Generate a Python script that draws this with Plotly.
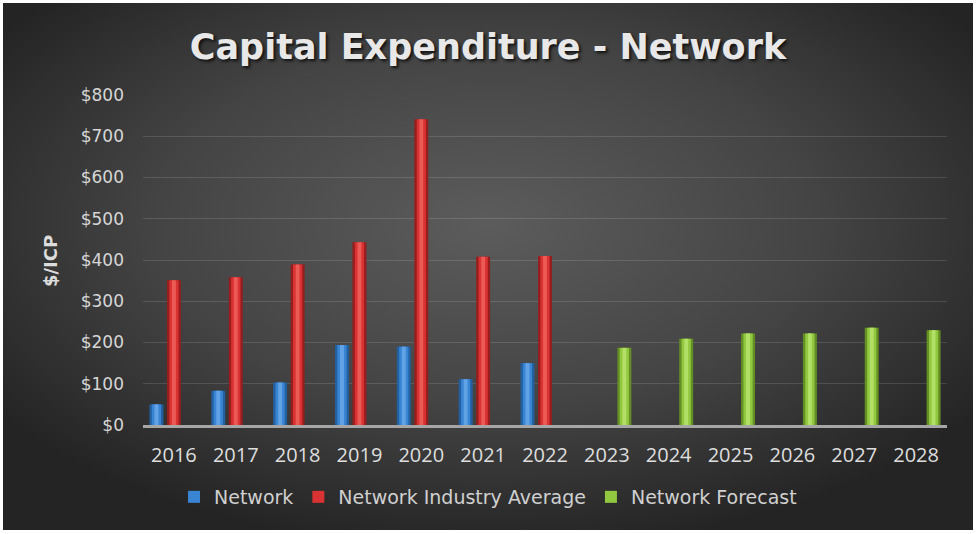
import base64
import plotly.graph_objects as go

years = ["2016", "2017", "2018", "2019", "2020", "2021", "2022",
         "2023", "2024", "2025", "2026", "2027", "2028"]
network = [50, 83, 103, 194, 190, 111, 150,
           None, None, None, None, None, None]
industry_avg = [351, 358, 389, 443, 741, 408, 410,
                None, None, None, None, None, None]
forecast = [None, None, None, None, None, None, None,
            187, 209, 222, 222, 236, 230]
y_ticks = [0, 100, 200, 300, 400, 500, 600, 700, 800]
y_tick_text = ["$0", "$100", "$200", "$300", "$400", "$500", "$600", "$700", "$800"]

W, H = 976, 534
L, R, T, B = 143, 29, 95, 109
pw, ph = W - L - R, H - T - B

# dark radial backdrop with a thin white frame
svg = f"""<svg xmlns='http://www.w3.org/2000/svg' width='{W}' height='{H}'>
<defs><radialGradient id='g' cx='50%' cy='42%' r='62%'>
<stop offset='0%' stop-color='#5c5c5c'/>
<stop offset='55%' stop-color='#444444'/>
<stop offset='100%' stop-color='#242424'/>
</radialGradient></defs>
<rect width='{W}' height='{H}' fill='#ffffff'/>
<rect x='3' y='3' width='{W-6}' height='{H-7}' fill='url(#g)'/>
</svg>"""
bg_src = "data:image/svg+xml;base64," + base64.b64encode(svg.encode()).decode()

# clustered slots: three series per year, each bar in its own slot
slot = 0.283
bar_w = 0.226
series = [
    # name, values, slot index, (edge, body, core) shades
    ("Network", network, -1, ("#22609f", "#3a84d4", "#62a3e6")),
    ("Network Industry Average", industry_avg, 0, ("#961e1e", "#d83232", "#ec5a55")),
    ("Network Forecast", forecast, 1, ("#648f25", "#92c740", "#b2df66")),
]

fig = go.Figure()
for name, vals, k, (edge, body, core) in series:
    centre = k * slot
    fig.add_trace(go.Bar(
        x=years, y=vals, name=name, width=bar_w, offset=centre - bar_w / 2,
        marker=dict(color=edge, line=dict(width=0)),
        showlegend=False, legendgroup=name,
    ))
    # rounded shading: lighter body and core stripes over the same values
    for frac, shade, in_legend in ((0.66, body, True), (0.28, core, False)):
        w = bar_w * frac
        fig.add_trace(go.Bar(
            x=years, y=vals, name=name, width=w, offset=centre - w / 2,
            marker=dict(color=shade, line=dict(width=0)),
            showlegend=in_legend, legendgroup=name, hoverinfo="skip",
        ))

fig.update_layout(
    width=W, height=H,
    margin=dict(l=L, r=R, t=T, b=B, autoexpand=False),
    paper_bgcolor="#ffffff",
    plot_bgcolor="rgba(0,0,0,0)",
    barmode="overlay",
    font=dict(family="DejaVu Sans", color="#d9d9d9"),
    title=dict(
        text="Capital Expenditure - Network",
        x=0.5, xanchor="center", xref="container",
        y=1 - 47 / H, yanchor="middle", yref="container",
        font=dict(size=35, family="DejaVu Sans", weight="bold", color="#e8e8e8",
                  shadow="2px 2px 3px #111111"),
    ),
    legend=dict(
        orientation="h", x=0.5, xanchor="center",
        xref="container", y=(T + ph - 497) / ph, yanchor="middle",
        font=dict(size=19, color="#d0d0d0"),
        bgcolor="rgba(0,0,0,0)", itemwidth=30, traceorder="normal",
    ),
    images=[dict(
        source=bg_src, xref="paper", yref="paper",
        x=-L / pw, y=1 + T / ph, sizex=W / pw, sizey=H / ph,
        xanchor="left", yanchor="top", sizing="stretch", layer="below",
    )],
    annotations=[dict(
        text="<b>$/ICP</b>", textangle=-90, showarrow=False,
        xref="paper", yref="paper", x=(50 - L) / pw, y=(T + ph - 261) / ph,
        xanchor="center", yanchor="middle",
        font=dict(size=18, family="DejaVu Sans", color="#dcdcdc"),
    )],
)
fig.update_xaxes(
    type="category", showgrid=False, showline=True,
    linecolor="#a6a6a6", linewidth=3, tickangle=0,
    tickfont=dict(size=20, family="Open Sans", color="#dedede"), ticklabelstandoff=10,
)
fig.update_yaxes(
    range=[0, 800], tickvals=y_ticks, ticktext=y_tick_text,
    showgrid=True, gridcolor="rgba(255,255,255,0.13)", gridwidth=1,
    zeroline=False, showline=False,
    tickfont=dict(size=17, family="DejaVu Sans", color="#d6d6d6"), ticklabelstandoff=18,
)

fig.write_html("out.html")
